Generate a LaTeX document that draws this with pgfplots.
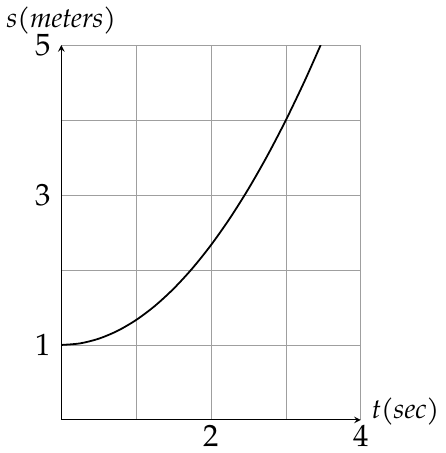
\documentclass[border=0pt]{standalone}
\usepackage{fontspec}
\setmainfont{TeX Gyre Pagella}
\usepackage{pgfplots}
\pgfplotsset{compat=1.18}
\begin{document}
\begin{tikzpicture}
\begin{axis}[
  width=151pt, height=189pt, scale only axis,
  xmin=0, xmax=4, ymin=0, ymax=5,
  axis lines=left,
  axis line style={black, line width=0.5pt},
  grid=major,
  grid style={gray!75, line width=0.4pt},
  xtick={1,2,3,4}, xticklabels={,2,,4},
  ytick={1,2,3,4,5}, yticklabels={1,,3,,5},
  major tick length=0pt,
  /pgf/number format/assume math mode=true,
  tick label style={font=\fontsize{15.5}{17}\selectfont},
  xticklabel style={yshift=1pt},
  yticklabel style={xshift=-1.5pt},
  xlabel={\fontsize{14}{16}\selectfont\textit{t(sec)}},
  ylabel={\fontsize{14}{16}\selectfont\textit{s(meters)}},
  xlabel style={at={(axis description cs:1,0)}, anchor=west, xshift=2pt, yshift=4pt},
  ylabel style={at={(axis description cs:0,1)}, rotate=-90, anchor=south, yshift=2pt},
]
\addplot[black, line width=0.9pt, smooth] coordinates {
  (0,1) (0.25,1.0208) (0.5,1.0833) (0.75,1.1875) (1,1.3333) (1.25,1.5208)
  (1.5,1.75) (1.75,2.0208) (2,2.3333) (2.25,2.6875) (2.5,3.0833)
  (2.75,3.5208) (3,4) (3.25,4.5208) (3.464,5)
};
\end{axis}
\end{tikzpicture}
\end{document}
